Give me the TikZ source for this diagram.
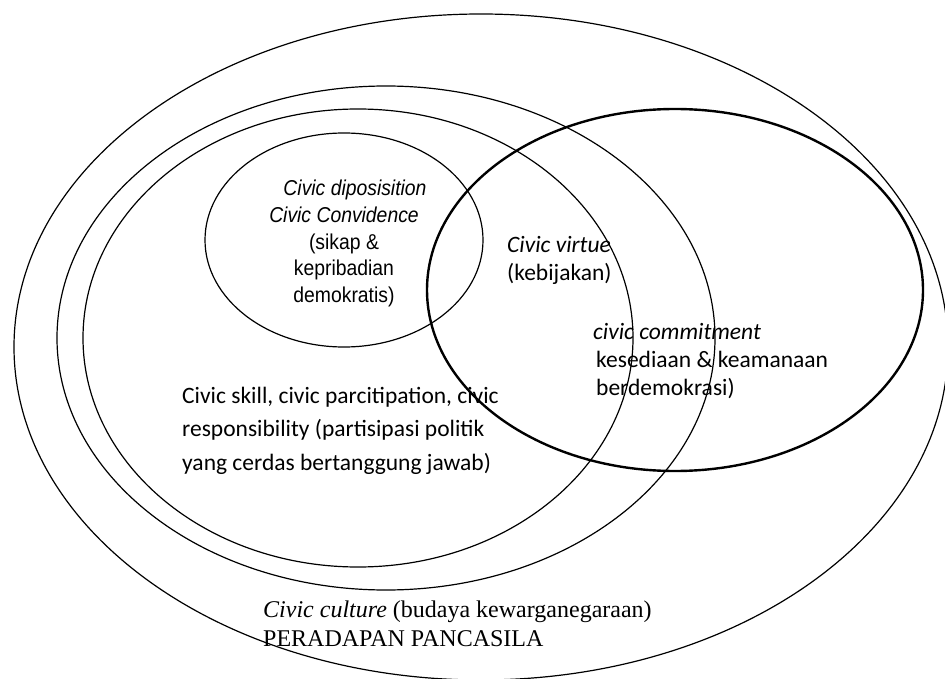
\documentclass[tikz,border=0pt]{standalone}
\usepackage{fontspec}
\setmainfont{Liberation Serif}
\newfontfamily\arialfont[FakeStretch=0.9]{Liberation Sans}
\newfontfamily\calibrifont{Carlito}
\begin{document}
\begin{tikzpicture}[x=1pt,y=-1pt,
  ring/.style={line width=1.2pt},
  boldring/.style={line width=2.4pt},
  arialtext/.style={inner sep=0pt,align=center,font=\arialfont\fontsize{21.5}{27}\selectfont},
  calitext/.style={inner sep=0pt,align=left,anchor=base west,font=\calibrifont\fontsize{23.5}{28}\selectfont}]
  \useasboundingbox (0,0) rectangle (945,679);
  \draw[ring] (481,347) ellipse [x radius=467pt, y radius=333pt];
  \draw[ring] (386,338) ellipse [x radius=329pt, y radius=252pt];
  \draw[ring] (358,338) ellipse [x radius=275pt, y radius=229pt];
  \draw[ring] (344,240) ellipse [x radius=139pt, y radius=107pt];
  \draw[boldring] (675,290) ellipse [x radius=248pt, y radius=181pt];
  \node[arialtext,anchor=base] (dispo) at (344,303)
    {\hspace*{22pt}\textit{Civic diposisition}\\ \textit{Civic Convidence}\\ (sikap \&\\ kepribadian\\ demokratis)};
  \node[calitext,font=\calibrifont\fontsize{23.5}{33.5}\selectfont] (skill) at (182,470)
    {Civic skill, civic parcitipation, civic\\ responsibility (partisipasi politik\\ yang cerdas bertanggung jawab)};
  \node[calitext] (virtue) at (507,280) {\textit{Civic virtue}\\ (kebijakan)};
  \node[calitext] (commit) at (593,395)
    {\textit{civic commitment}\\ \hspace*{3pt}kesediaan \& keamanaan\\ \hspace*{3pt}berdemokrasi)};
  \node[inner sep=0pt,align=left,anchor=base west,font=\fontsize{24}{29}\selectfont] (culture) at (263,646)
    {\textit{Civic culture} (budaya kewarganegaraan)\\ PERADAPAN PANCASILA};
\end{tikzpicture}
\end{document}
